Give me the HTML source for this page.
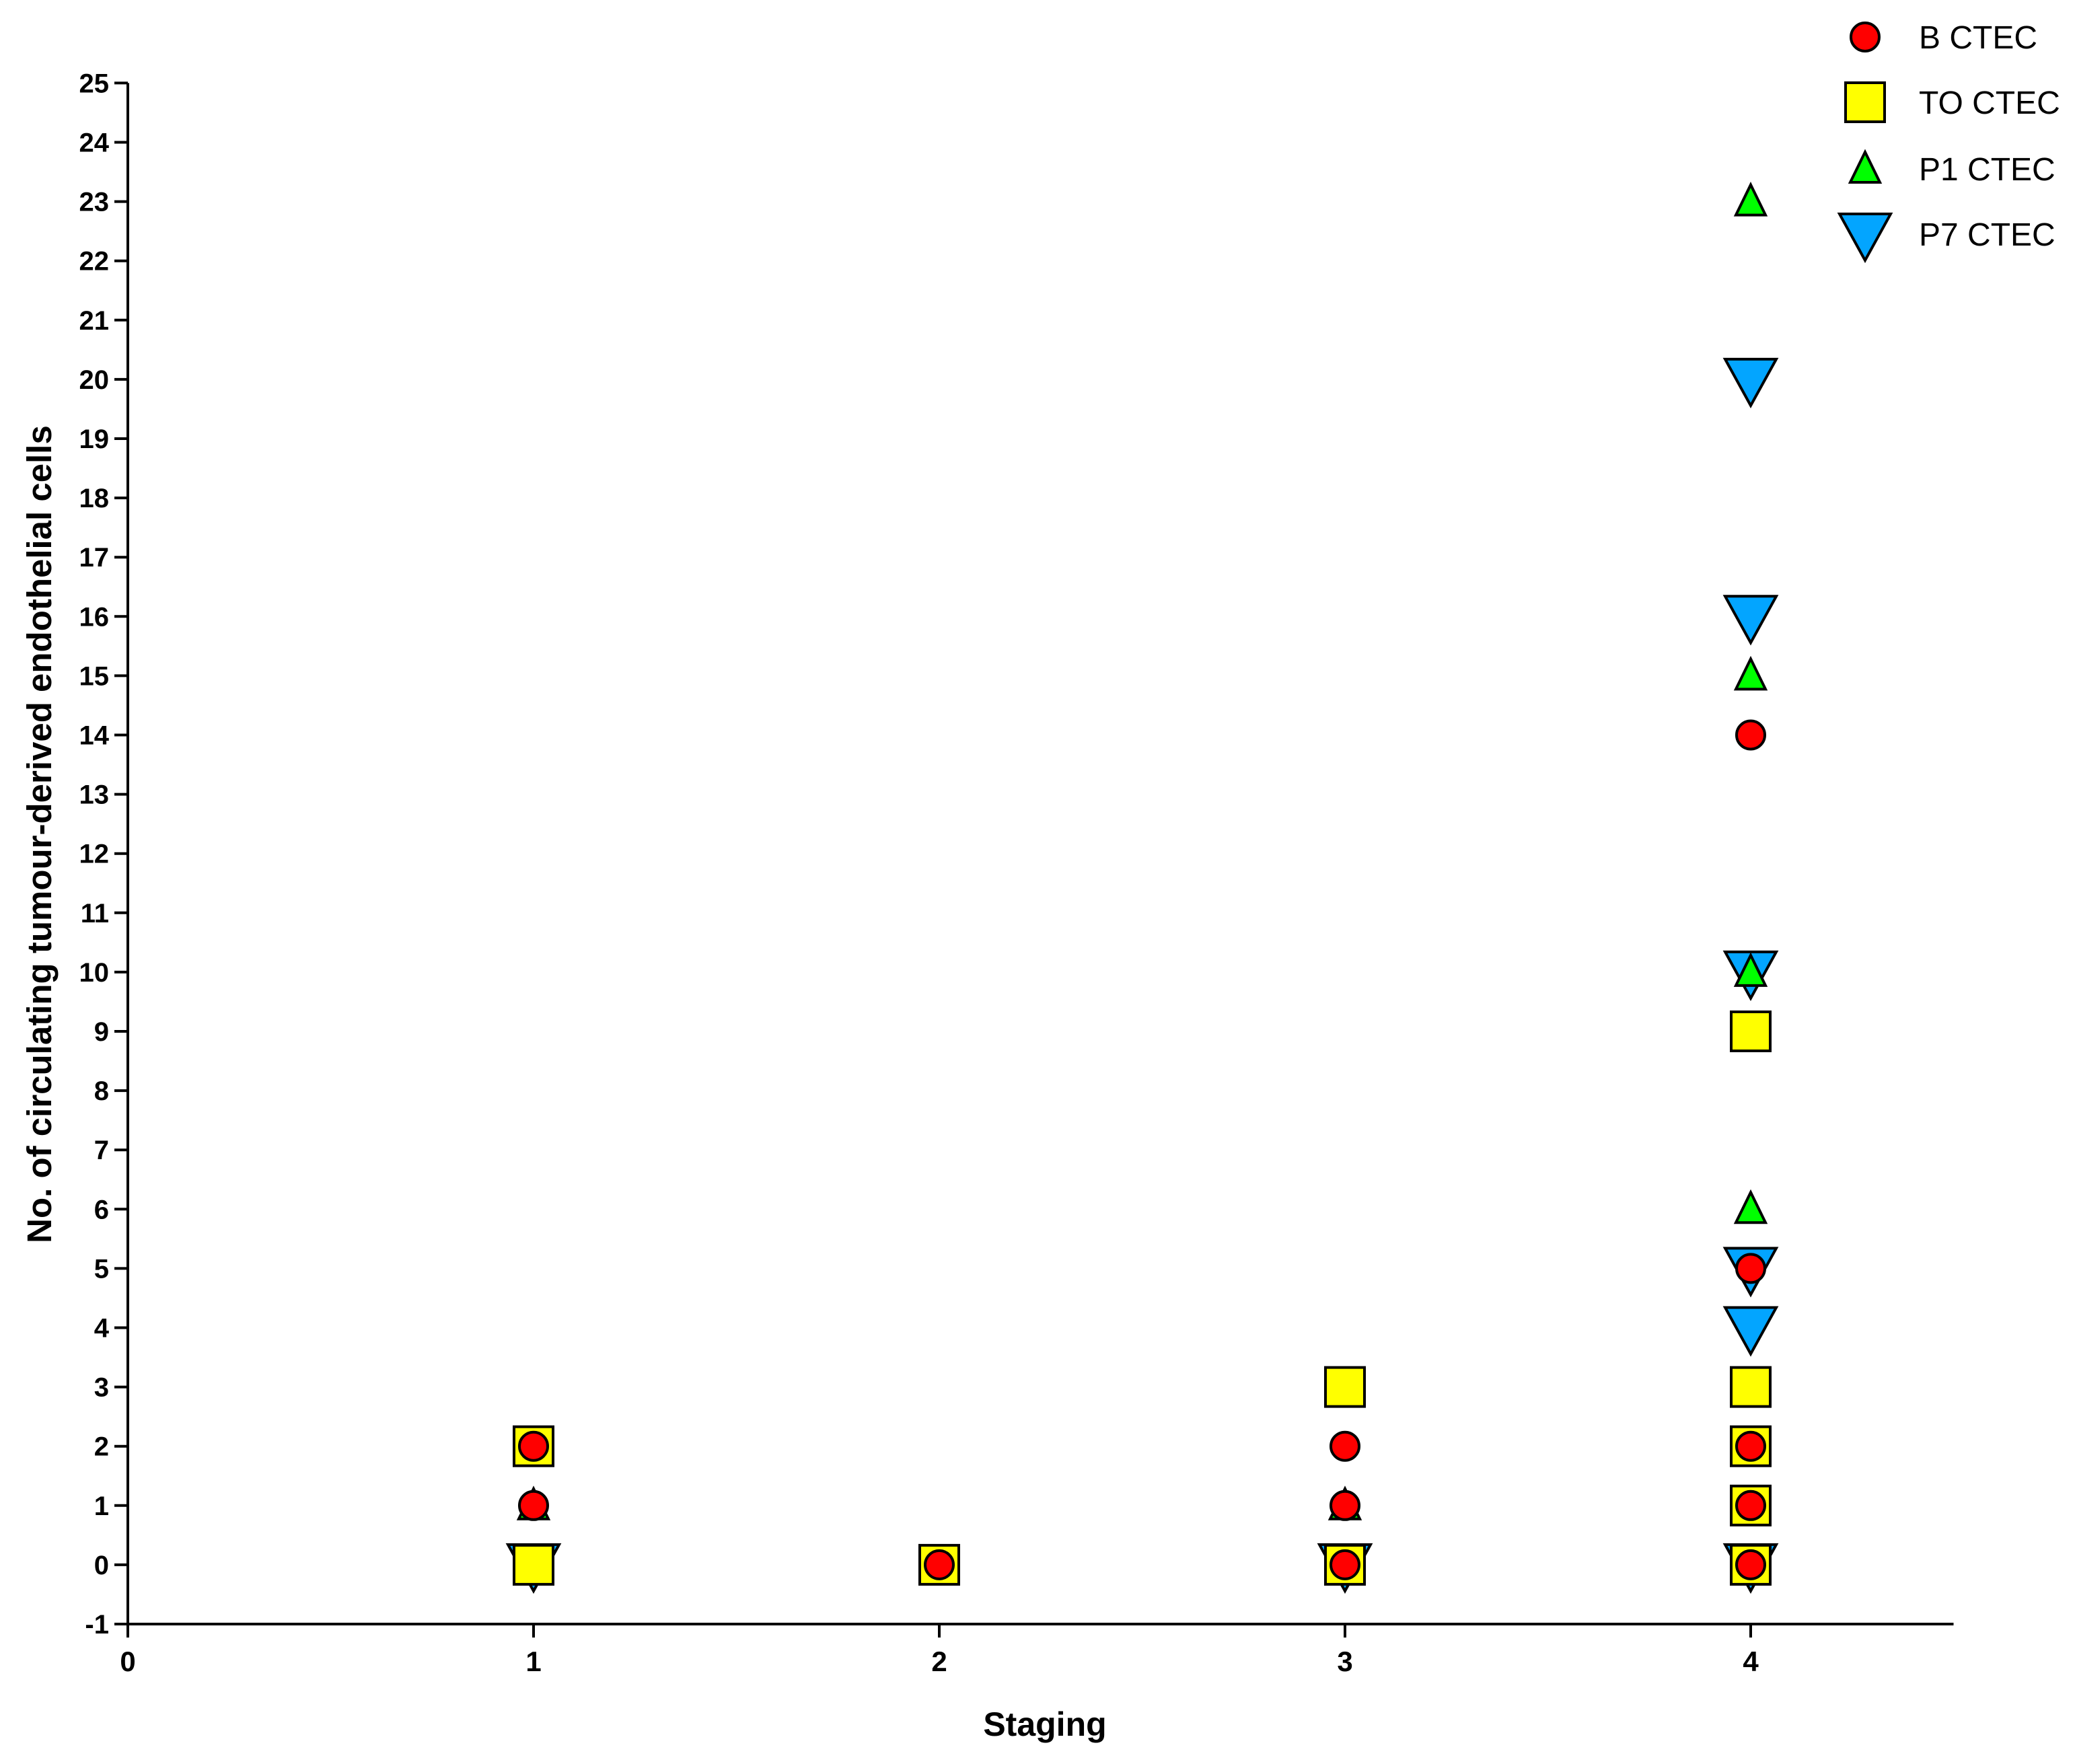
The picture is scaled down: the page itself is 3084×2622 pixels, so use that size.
<!DOCTYPE html>
<html><head><meta charset="utf-8"><style>
html,body{margin:0;padding:0;background:#fff;}
svg{display:block;}
text{font-family:"Liberation Sans Narrow","Liberation Sans",sans-serif;}
</style></head><body>
<svg id="chart" width="3084" height="2622" viewBox="0 0 3084 2622" xmlns="http://www.w3.org/2000/svg">
<g id="axes"></g>
<g id="marks"></g>
<g id="legend"></g>
</svg>
<script>
const xTicks = [0,1,2,3,4];
const yTicks = [-1,0,1,2,3,4,5,6,7,8,9,10,11,12,13,14,15,16,17,18,19,20,21,22,23,24,25];
const seriesNames = ["P7 CTEC","TO CTEC","P1 CTEC","B CTEC"];
const p7X = [1,3,4,4,4,4,4,4];
const p7Y = [0,0,20,16,10,5,4,0];
const toX = [1,1,2,3,3,4,4,4,4,4];
const toY = [2,0,0,3,0,9,3,2,1,0];
const p1X = [1,3,4,4,4,4];
const p1Y = [1,1,23,15,10,6];
const bX = [1,1,2,3,3,3,4,4,4,4,4];
const bY = [2,1,0,2,1,0,14,5,2,1,0];

const NS="http://www.w3.org/2000/svg";
const X0=190, XPER=603, Y0=2414, YPER=88.1;
function sx(v){return X0+v*XPER;}
function sy(v){return Y0-(v+1)*YPER;}
function mk(tag,attrs,parent){const e=document.createElementNS(NS,tag);for(const k in attrs)e.setAttribute(k,attrs[k]);parent.appendChild(e);return e;}
const axes=document.getElementById('axes');
let l=mk('line',{x1:X0,y1:sy(25),x2:X0,y2:Y0+2,stroke:'#000','stroke-width':4},axes);


l=mk('line',{x1:X0-2,y1:Y0,x2:sx(4.5),y2:Y0,stroke:'#000','stroke-width':4},axes);


yTicks.forEach(v=>{
 const t=mk('line',{x1:X0-20,y1:sy(v),x2:X0,y2:sy(v),stroke:'#000','stroke-width':4},axes);
 
 
 const tx=mk('text',{x:X0-28,y:sy(v)+14,'text-anchor':'end','font-size':40,'font-weight':'bold'},axes);
 tx.textContent=v;
 
 
});
xTicks.forEach(v=>{
 const t=mk('line',{x1:sx(v),y1:Y0,x2:sx(v),y2:Y0+20,stroke:'#000','stroke-width':4},axes);
 
 
 const tx=mk('text',{x:sx(v),y:Y0+70,'text-anchor':'middle','font-size':42,'font-weight':'bold'},axes);
 tx.textContent=v;
 
 
});
let tt=mk('text',{x:1553,y:2580,'text-anchor':'middle','font-size':50,'font-weight':'bold'},axes);
tt.textContent='Staging';


tt=mk('text',{x:0,y:0,'text-anchor':'middle','font-size':51,'font-weight':'bold',transform:'translate(76,1240) rotate(-90)'},axes);
tt.textContent='No. of circulating tumour-derived endothelial cells';



function marker(type,cx,cy,parent){
 const st={stroke:'#000','stroke-width':4,'stroke-linejoin':'miter'};
 let e;
 if(type==='circle') e=mk('circle',Object.assign({cx:cx,cy:cy,r:21,fill:'#ff0000'},st),parent);
 else if(type==='square') e=mk('rect',Object.assign({x:cx-29,y:cy-29,width:58,height:58,fill:'#ffff00'},st),parent);
 else if(type==='up') e=mk('polygon',Object.assign({points:`${cx},${cy-25} ${cx+22},${cy+20} ${cx-22},${cy+20}`,fill:'#00ff00'},st),parent);
 else e=mk('polygon',Object.assign({points:`${cx-38},${cy-30} ${cx+38},${cy-30} ${cx},${cy+39}`,fill:'#03a5ff'},st),parent);
 return e;
}
const marks=document.getElementById('marks');
p7X.forEach((x,i)=>{const e=marker('down',sx(x),sy(p7Y[i]),marks);
 
 });
toX.forEach((x,i)=>{const e=marker('square',sx(x),sy(toY[i]),marks);
 
 });
p1X.forEach((x,i)=>{const e=marker('up',sx(x),sy(p1Y[i]),marks);
 
 });
bX.forEach((x,i)=>{const e=marker('circle',sx(x),sy(bY[i]),marks);
 
 });

const leg=document.getElementById('legend');
const legItems=[['circle','B CTEC',55],['square','TO CTEC',152],['up','P1 CTEC',251],['down','P7 CTEC',348]];
legItems.forEach(it=>{
 const g=mk('g',{},leg);
 
 
 marker(it[0],2772,it[2],g);
 const t=mk('text',{x:2852,y:it[2]+17,'font-size':48,'font-family':'Liberation Sans, sans-serif'},g);
 t.textContent=it[1];
 
 
});
</script>
</body></html>
